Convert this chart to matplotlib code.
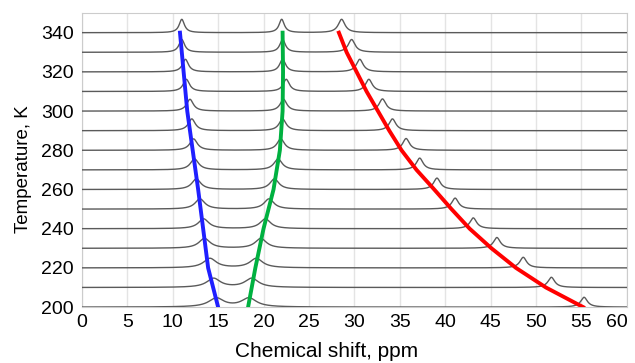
import matplotlib
matplotlib.use("Agg")
import matplotlib.pyplot as plt
import matplotlib.transforms as mtransforms
import numpy as np

plt.rcParams["font.family"] = ["Liberation Sans", "DejaVu Sans"]

temperatures = [200, 210, 220, 230, 240, 250, 260, 270, 280, 290, 300, 310, 320, 330, 340]

# peak positions (ppm) read per spectrum
peak1_pos = [14.8, 14.5, 14.1, 13.5, 13.4, 13.0, 12.6, 12.4, 12.3, 12.1, 11.9, 11.5, 11.4, 11.0, 11.0]
peak2_pos = [18.4, 18.7, 19.2, 19.7, 20.2, 20.6, 21.2, 21.6, 21.9, 22.1, 22.2, 22.5, 22.1, 22.1, 22.0]
peak3_pos = [55.3, 51.7, 48.6, 45.7, 43.1, 41.1, 39.1, 37.2, 35.7, 34.2, 33.1, 31.6, 30.6, 29.7, 28.6]

# half widths (ppm) and heights (K units)
width12 = [1.0, 0.9, 0.85, 0.75, 0.7, 0.65, 0.6, 0.55, 0.5, 0.47, 0.45, 0.42, 0.4, 0.37, 0.35]
width3 = [0.45, 0.45, 0.45, 0.45, 0.45, 0.45, 0.45, 0.45, 0.45, 0.45, 0.45, 0.45, 0.45, 0.45, 0.45]
height12 = [4.5, 4.6, 4.8, 5.0, 5.0, 5.2, 5.4, 5.6, 5.8, 6.0, 6.0, 6.2, 6.4, 6.5, 6.8]
height3 = [5.0, 5.2, 5.4, 5.5, 5.5, 5.6, 5.8, 6.0, 6.0, 6.0, 6.2, 6.2, 6.4, 6.5, 6.8]

# fitted trend lines (ppm at temperature)
blue_T = [340, 300, 260, 220, 200]
blue_x = [10.8, 11.6, 12.8, 13.9, 15.0]
green_T = [340, 320, 300, 280, 260, 240, 220, 200]
green_x = [22.1, 22.15, 22.1, 21.8, 21.1, 20.0, 19.1, 18.3]
red_T = [340, 330, 320, 310, 300, 290, 280, 270, 260, 250, 240, 230, 220, 210, 200]
red_x = [28.3, 29.15, 30.25, 31.35, 32.6, 33.85, 35.2, 36.85, 38.8, 40.7, 42.7, 45.1, 47.8, 51.1, 55.2]


def lorentz(x, x0, w, h):
    return h * w**2 / ((x - x0)**2 + w**2)


fig = plt.figure(figsize=(6.35, 3.63), dpi=100)
ax = fig.add_axes([0.129, 0.154, 0.858, 0.81])

x = np.linspace(0, 60, 1500)
for i, T in enumerate(temperatures):
    y = (lorentz(x, peak1_pos[i], width12[i], height12[i])
         + lorentz(x, peak2_pos[i], width12[i], height12[i])
         + lorentz(x, peak3_pos[i], width3[i], height3[i]))
    ax.plot(x, T + y, color="#5a5a5a", lw=1.0, zorder=3)

ax.plot(blue_x, blue_T, color="#1f1fff", lw=2.8, zorder=4, solid_joinstyle="round")
ax.plot(green_x, green_T, color="#00b140", lw=2.8, zorder=4, solid_joinstyle="round")
ax.plot(red_x, red_T, color="#ff0000", lw=2.8, zorder=4, solid_joinstyle="round")

ax.set_xlim(0, 60)
ax.set_ylim(200, 350)
ax.set_xticks(np.arange(0, 61, 5))
ax.set_yticks(np.arange(200, 341, 20))
ax.grid(axis="x", color="#e4e4e4", lw=1)
ax.set_axisbelow(True)
for s in ax.spines.values():
    s.set_color("#cccccc")
ax.tick_params(length=0, labelsize=14)
ax.tick_params(axis="x", pad=5)
ax.tick_params(axis="y", pad=6)
ax.set_xlabel("Chemical shift, ppm", fontsize=15)
ax.set_ylabel("Temperature, K", fontsize=13.5)
ax.xaxis.set_label_coords(0.449, -0.12)
ax.yaxis.set_label_coords(-0.092, 0.468)

# keep the last x label inside the figure
fig.canvas.draw()
last = ax.get_xticklabels()[-1]
last.set_transform(last.get_transform() + mtransforms.ScaledTranslation(-7 / 72, 0, fig.dpi_scale_trans))

plt.savefig("out.png", dpi=100)
